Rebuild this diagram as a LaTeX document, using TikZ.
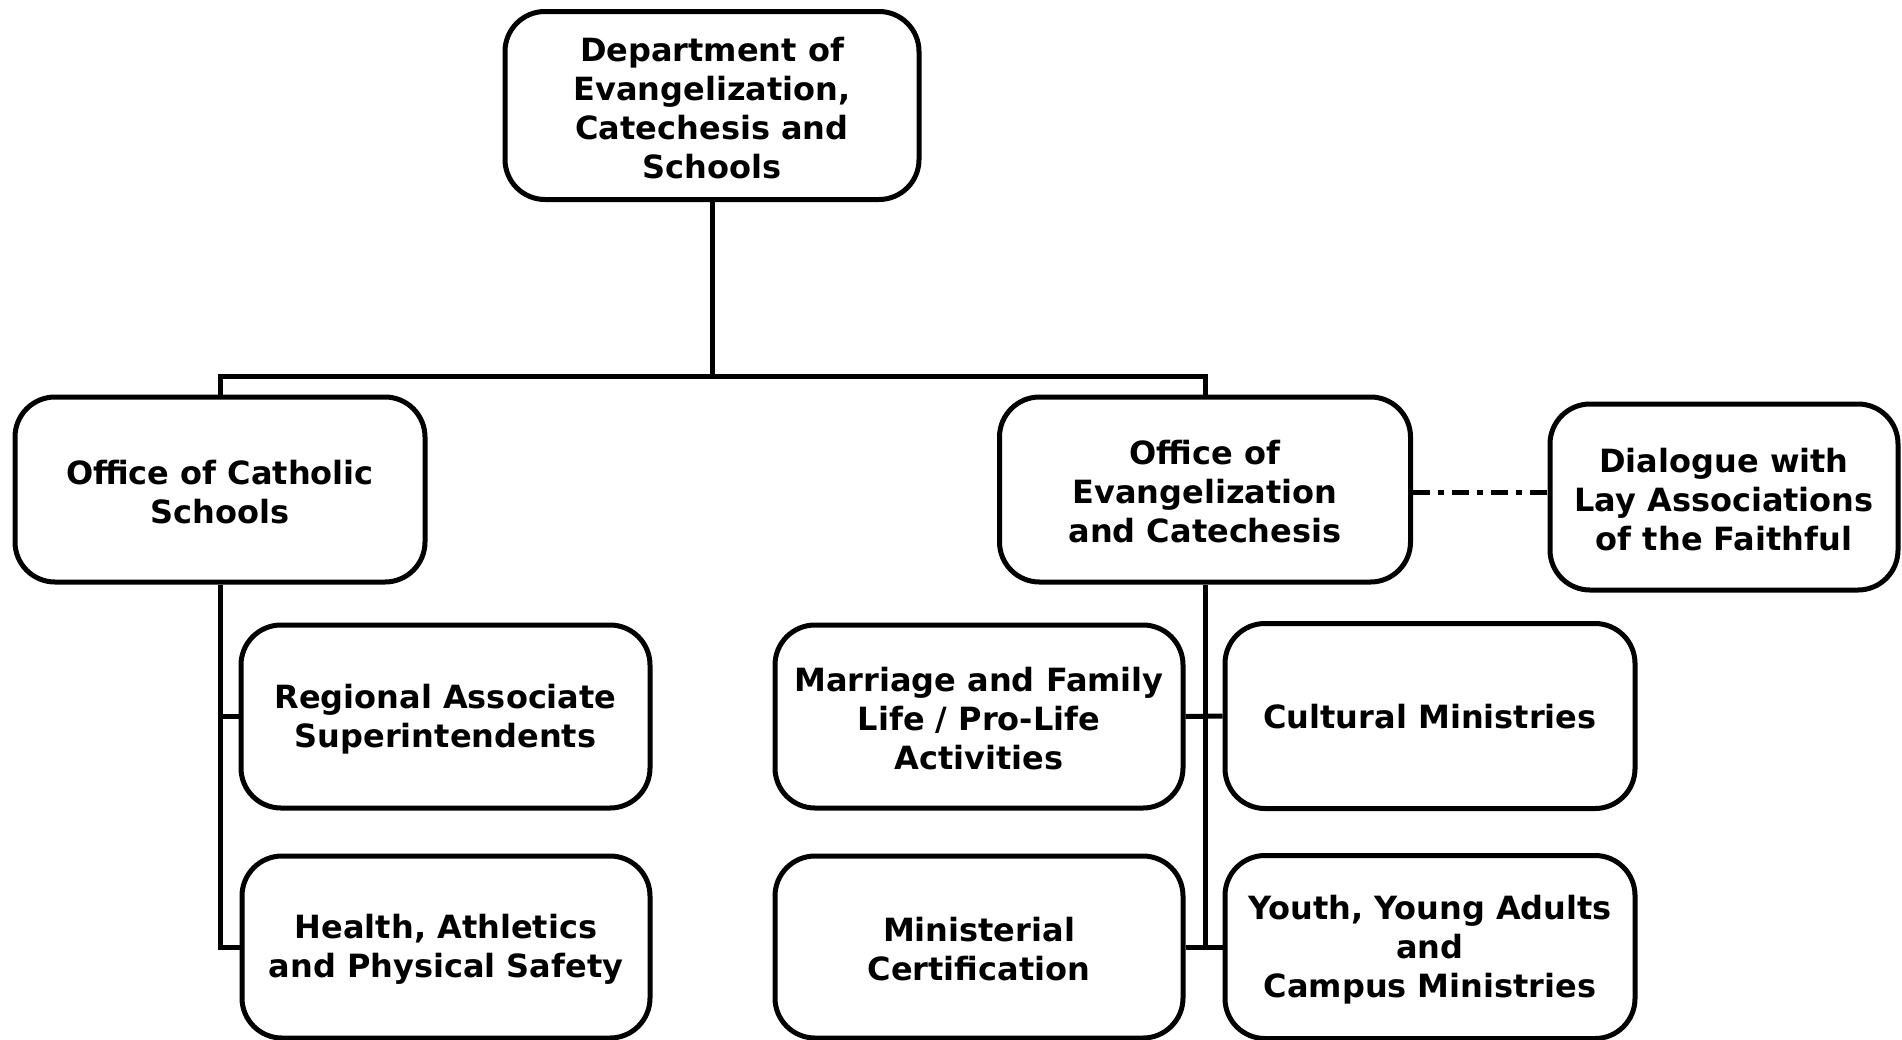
\documentclass[tikz,border=0pt]{standalone}
\usepackage{fontspec}
\setmainfont{DejaVu Sans}
\begin{document}
\begin{tikzpicture}[x=1pt,y=-1pt,
  txt/.style={align=center, font=\fontsize{32}{39}\selectfont\bfseries, inner sep=0pt, yshift=#1},
  txt/.default=-2.5pt,
  boxframe/.style={draw, line width=5pt, rounded corners=40pt, inner sep=0pt},
  box/.style={boxframe, label={[txt]center:#1}},
  boxone/.style={boxframe, label={[txt=-0.5pt]center:#1}},
  link/.style={line width=5pt},
  dd/.style={line width=5pt, dash pattern=on 17pt off 8pt on 6pt off 8pt}]
\useasboundingbox (0,0) rectangle (1902,1039);
\node[box={Department of\\Evangelization,\\Catechesis and\\Schools}, minimum width=414pt, minimum height=188pt] (top) at (712,105.5) {};
\node[box={Office of Catholic\\Schools}, minimum width=410pt, minimum height=185pt] (ocs) at (220,489.5) {};
\node[box={Office of\\Evangelization\\and Catechesis}, minimum width=411pt, minimum height=185pt] (oec) at (1205,489.5) {};
\node[box={Dialogue with\\Lay Associations\\of the Faithful}, minimum width=348pt, minimum height=186pt] (dlg) at (1724,497) {};
\node[box={Regional Associate\\Superintendents}, minimum width=409pt, minimum height=183pt] (reg) at (445.5,716.5) {};
\node[box={Health, Athletics\\and Physical Safety}, minimum width=408pt, minimum height=182pt] (hea) at (446,947) {};
\node[box={Marriage and Family\\Life / Pro-Life\\Activities}, minimum width=408pt, minimum height=183pt] (mar) at (979,716.5) {};
\node[box={Ministerial\\Certification}, minimum width=408pt, minimum height=182pt] (min) at (979,947) {};
\node[boxone={Cultural Ministries}, minimum width=410pt, minimum height=185pt] (cul) at (1430,716) {};
\node[box={Youth, Young Adults\\and\\Campus Ministries}, minimum width=410pt, minimum height=183pt] (you) at (1430,947) {};
\coordinate (bus) at (712,376);
\draw[link] (top.south) -- (bus);
\draw[link] (ocs.north) -- (ocs.north |- bus) -- (oec.north |- bus) -- (oec.north);
\draw[link] (ocs.south) |- (hea.west);
\draw[link] (ocs.south |- reg.west) -- (reg.west);
\draw[link] (oec.south) -- (oec.south |- you.west);
\draw[link] (mar.east) -- (cul.west);
\draw[link] (min.east) -- (you.west);
\coordinate (dstart) at ([yshift=-2.5pt]oec.east);
\draw[dd] (dstart) -- (dstart -| dlg.west);
\end{tikzpicture}
\end{document}
